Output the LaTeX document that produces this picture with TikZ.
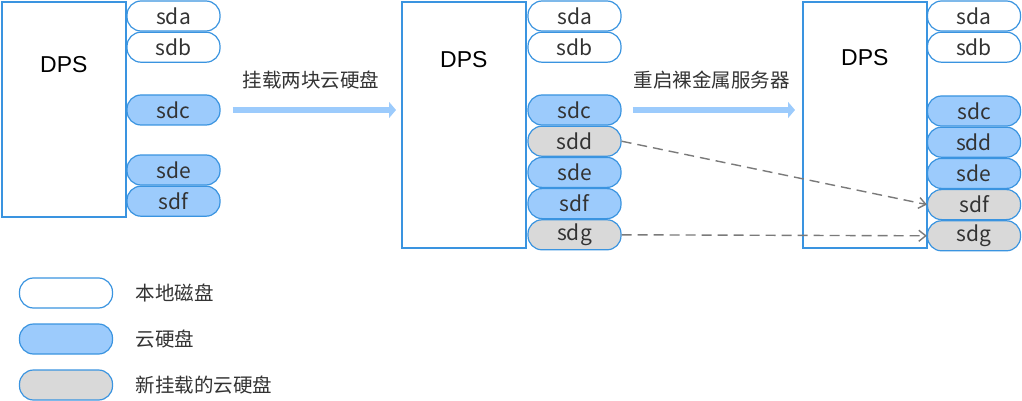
\documentclass[tikz,border=0pt]{standalone}
\usepackage{fontspec}
\setmainfont{Liberation Sans}
\newfontfamily\cjk{Noto Sans CJK SC}
\usetikzlibrary{arrows.meta,positioning}
\definecolor{hostblue}{HTML}{3A94E0}
\definecolor{cloudfill}{HTML}{9CCBFC}
\definecolor{newfill}{HTML}{D9D9D9}
\definecolor{linkgray}{HTML}{7A7A7A}

\begin{document}
\begin{tikzpicture}[x=1pt, y=-1pt, node distance=0pt,
  host/.style={draw=hostblue, line width=1.6pt, minimum width=124pt, anchor=north west, inner sep=0pt},
  hosttext/.style={font=\fontsize{23}{23}\selectfont},
  disk/.style={draw=hostblue, line width=1.2pt, rounded corners=14pt, minimum width=93pt, minimum height=30pt, inner sep=0pt, font=\cjk\fontsize{21}{21}\selectfont, text=black!80},
  local/.style={disk, fill=white}, cloud/.style={disk, fill=cloudfill}, fresh/.style={disk, fill=newfill},
  flow/.style={-{Triangle[length=7pt,width=16pt]}, draw=cloudfill, line width=6.5pt},
  link/.style={-{Straight Barb[length=7pt,width=11pt]}, draw=linkgray, line width=1.4pt, dash pattern=on 10pt off 6pt},
  note/.style={font=\cjk\fontsize{19.5}{19.5}\selectfont, text=black!80}]
\useasboundingbox (0,0) rectangle (1022,401);

\node[host, minimum height=215pt] (dpsA) at (1,1) {};
\node[hosttext, below=52pt of dpsA.north] (labA) {DPS};
\node[local] (sdaA) at (173.5,16) {sda};
\node[local, below=of sdaA] (sdbA) {sdb};
\node[cloud] (sdcA) at (173.5,110) {sdc};
\node[cloud] (sdeA) at (173.5,170) {sde};
\node[cloud, below=of sdeA] (sdfA) {sdf};

\node[host, minimum height=246pt] (dpsB) at (401,1) {};
\node[hosttext, below=47pt of dpsB.north] (labB) {DPS};
\node[local] (sdaB) at (574.5,16) {sda};
\node[local, below=of sdaB] (sdbB) {sdb};
\node[cloud] (sdcB) at (574.5,110) {sdc};
\node[fresh, below=of sdcB] (sddB) {sdd};
\node[cloud, below=of sddB] (sdeB) {sde};
\node[cloud, below=of sdeB] (sdfB) {sdf};
\node[fresh, below=of sdfB] (sdgB) {sdg};

\node[host, minimum height=246pt] (dpsC) at (802,1) {};
\node[hosttext, below=45pt of dpsC.north] (labC) {DPS};
\node[local] (sdaC) at (974,16) {sda};
\node[local, below=of sdaC] (sdbC) {sdb};
\node[cloud] (sdcC) at (974,111) {sdc};
\node[cloud, below=of sdcC] (sddC) {sdd};
\node[cloud, below=of sddC] (sdeC) {sde};
\node[fresh, below=of sdeC] (sdfC) {sdf};
\node[fresh, below=of sdfC] (sdgC) {sdg};

\draw[flow, shorten <=12pt, shorten >=5pt] (sdcA.east) -- node[note, above=14pt] (stepA) {挂载两块云硬盘} (sdcA.east -| dpsB.west);
\draw[flow, shorten <=11pt, shorten >=7pt] (sdcB.east) -- node[note, above=14pt] (stepB) {重启裸金属服务器} (sdcB.east -| dpsC.west);
\draw[link] (sddB.east) -- (sdfC.west);
\draw[link] (sdgB.east) -- (sdgC.west);

\node[local] (keyLocal) at (66,293) {};
\node[note, anchor=west] (txtLocal) at (132,293) {本地磁盘};
\node[cloud] (keyCloud) at (66,339) {};
\node[note, anchor=west] (txtCloud) at (132,339) {云硬盘};
\node[fresh] (keyFresh) at (66,385) {};
\node[note, anchor=west] (txtFresh) at (132,385) {新挂载的云硬盘};
\end{tikzpicture}
\end{document}
